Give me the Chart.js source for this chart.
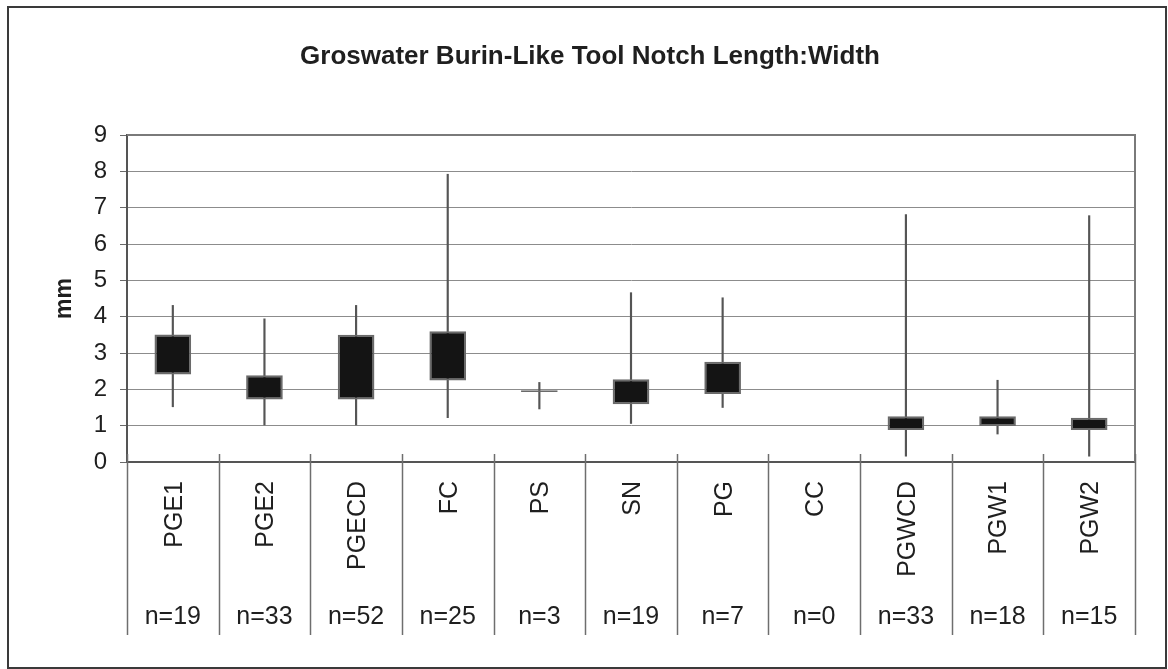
<!DOCTYPE html>
<html>
<head>
<meta charset="utf-8">
<script src="https://cdn.jsdelivr.net/npm/chart.js@4/dist/chart.umd.min.js"></script>
<style>
  html, body { margin: 0; padding: 0; background: #ffffff; }
  #wrap { width: 1168px; height: 669px; position: relative; }
</style>
</head>
<body>
<div id="wrap"><canvas id="c" width="1168" height="669"></canvas></div>
<script>
// Notch length:width ratios (mm) per assemblage
const categories = ['PGE1', 'PGE2', 'PGECD', 'FC', 'PS', 'SN', 'PG', 'CC', 'PGWCD', 'PGW1', 'PGW2'];
const sampleSizes = [19, 33, 52, 25, 3, 19, 7, 0, 33, 18, 15];
const rangeLow  = [1.52, 1.02, 1.02, 1.22, 1.46, 1.06, 1.50, null, 0.16, 0.77, 0.16];
const rangeHigh = [4.31, 3.94, 4.31, 7.92, 2.19, 4.66, 4.52, null, 6.81, 2.25, 6.78];
const boxLow    = [2.41, 1.72, 1.72, 2.24, 1.925, 1.59, 1.87, null, 0.88, 0.99, 0.88];
const boxHigh   = [3.51, 2.39, 3.50, 3.60, 1.975, 2.28, 2.76, null, 1.26, 1.26, 1.22];
const yTicks = [0, 1, 2, 3, 4, 5, 6, 7, 8, 9];
const nLabels = sampleSizes.map(n => 'n=' + n);

const FONT = "'Liberation Sans', Arial, sans-serif";
const INK = '#1f1f1f';

const pair = (lo, hi) => lo.map((v, i) => (v === null ? null : [v, hi[i]]));

// Outer frame, plot border and the category table dividers
const framePlugin = {
  id: 'frame',
  afterDraw(chart) {
    const ctx = chart.ctx;
    const a = chart.chartArea;
    const xs = chart.scales.x;
    const xn = chart.scales.xn;
    ctx.save();
    // chart frame
    ctx.strokeStyle = '#3a3a3a';
    ctx.lineWidth = 2;
    ctx.strokeRect(8, 7, 1158, 661);
    // plot area top and right edges
    ctx.strokeStyle = '#7a7a7a';
    ctx.lineWidth = 2;
    ctx.beginPath();
    ctx.moveTo(a.left, a.top);
    ctx.lineTo(a.right, a.top);
    ctx.lineTo(a.right, a.bottom);
    ctx.stroke();
    // table dividers between categories
    ctx.strokeStyle = '#6e6e6e';
    ctx.lineWidth = 1.5;
    const yEnd = xn.bottom - 4;
    for (let i = 0; i <= categories.length; i++) {
      const x = Math.round(xs.getPixelForValue(i - 0.5)) + 0.5;
      ctx.beginPath();
      ctx.moveTo(x, a.bottom - 8);
      ctx.lineTo(x, yEnd);
      ctx.stroke();
    }
    ctx.restore();
  }
};

new Chart(document.getElementById('c'), {
  type: 'bar',
  data: {
    labels: categories,
    datasets: [
      {
        label: 'Box',
        data: pair(boxLow, boxHigh),
        backgroundColor: '#141414',
        borderColor: '#6a6a6a',
        borderWidth: 2,
        borderSkipped: false,
        grouped: false,
        categoryPercentage: 1,
        barPercentage: 0.4,
        order: 0
      },
      {
        label: 'Range',
        data: pair(rangeLow, rangeHigh),
        backgroundColor: '#555555',
        borderWidth: 0,
        grouped: false,
        barThickness: 1.5,
        order: 1
      }
    ]
  },
  options: {
    responsive: false,
    animation: false,
    devicePixelRatio: 1,
    layout: { padding: { left: 45, right: 33, top: 0, bottom: 30 } },
    plugins: {
      legend: { display: false },
      tooltip: { enabled: false },
      title: {
        display: true,
        text: 'Groswater Burin-Like Tool Notch Length:Width',
        color: INK,
        font: { family: FONT, size: 26, weight: 'bold', lineHeight: 1.2 },
        padding: { top: 41, bottom: 62.8 }
      }
    },
    scales: {
      y: {
        min: 0,
        max: 9,
        afterBuildTicks(scale) { scale.ticks = yTicks.map(v => ({ value: v })); },
        afterFit(scale) { scale.width = 82; },
        ticks: {
          color: INK,
          padding: 13,
          font: { family: FONT, size: 24 }
        },
        grid: { color: '#8c8c8c', lineWidth: 1, tickLength: 7, tickColor: '#6a6a6a' },
        border: { display: true, color: '#555555', width: 2 },
        title: {
          display: true,
          text: 'mm',
          color: INK,
          font: { family: FONT, size: 23, weight: 'bold', lineHeight: 1.2 },
          padding: { top: 6, bottom: 0 }
        }
      },
      x: {
        type: 'category',
        offset: true,
        weight: 0,
        afterFit(scale) { scale.height = 125; },
        grid: { display: false, drawTicks: false },
        border: { display: true, color: '#555555', width: 2 },
        ticks: {
          autoSkip: false,
          minRotation: 90,
          maxRotation: 90,
          padding: 19,
          labelOffset: 2,
          color: INK,
          font: { family: FONT, size: 25 }
        }
      },
      xn: {
        type: 'category',
        position: 'bottom',
        labels: nLabels,
        offset: true,
        display: true,
        weight: 1,
        afterFit(scale) { scale.height = 52; },
        grid: { display: false, drawTicks: false },
        border: { display: false },
        ticks: {
          autoSkip: false,
          maxRotation: 0,
          minRotation: 0,
          padding: 15,
          color: INK,
          font: { family: FONT, size: 25 }
        }
      }
    }
  },
  plugins: [framePlugin]
});
</script>
</body>
</html>
